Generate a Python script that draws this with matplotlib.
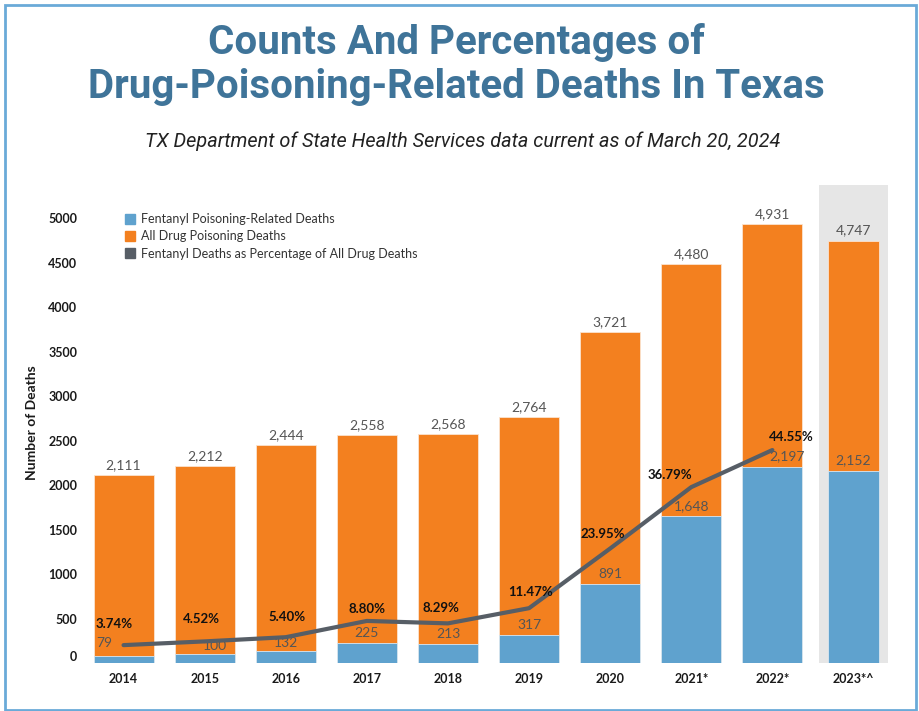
import matplotlib
matplotlib.use("Agg")
import matplotlib.pyplot as plt
from matplotlib.lines import Line2D
from matplotlib.patches import Rectangle

# data
years = ["2014", "2015", "2016", "2017", "2018", "2019", "2020", "2021*", "2022*", "2023*^"]
all_drug = [2111, 2212, 2444, 2558, 2568, 2764, 3721, 4480, 4931, 4747]
fentanyl = [79, 100, 132, 225, 213, 317, 891, 1648, 2197, 2152]
pct_fent = [3.74, 4.52, 5.40, 8.80, 8.29, 11.47, 23.95, 36.79, 44.55]  # no 2023 value

BLUE = "#5fa2ce"
ORANGE = "#f3801f"
LINE = "#575e66"
TITLE = "#3f7499"
LABEL_FONT = "Lato"

fig = plt.figure(figsize=(9.19, 7.11), dpi=100)
ax = fig.add_axes([83 / 919, 48 / 711, 811 / 919, 478 / 711])

x = list(range(len(years)))
widths = [0.74] * (len(years) - 1) + [0.625]

# highlight band behind the partial 2023 year
ax.axvspan(len(years) - 1 - 0.42, len(years) - 1 + 0.42, color="#e6e6e6", zorder=0, lw=0)

ax.bar(x, all_drug, width=widths, color=ORANGE, edgecolor="#fbe3cf", linewidth=0.6, zorder=2)
ax.bar(x, fentanyl, width=widths, color=BLUE, edgecolor="#d8e8f4", linewidth=0.6, zorder=3)

ax.set_xlim(-0.5, len(years) - 0.5)
ax.set_ylim(0, 5371)
ax.set_yticks(range(0, 5001, 500))
ax.set_xticks(x)
ax.set_xticklabels(years)
ax.tick_params(length=0)
ax.tick_params(axis="y", pad=4)
ax.tick_params(axis="x", pad=7)
for lbl in ax.get_yticklabels() + ax.get_xticklabels():
    lbl.set_fontfamily(LABEL_FONT)
    lbl.set_fontweight("bold")
    lbl.set_fontsize(9)
    lbl.set_color("#1a1a1a")
ax.get_yticklabels()[0].set_va("bottom")
for s in ax.spines.values():
    s.set_visible(False)

ax.set_ylabel("Number of Deaths", family=LABEL_FONT, fontweight="bold", fontsize=10, color="#1a1a1a")
ax.yaxis.set_label_coords(-0.0555, 0.502)

# percentage line on its own 0-100% scale
ax2 = ax.twinx()
ax2.set_ylim(0, 100)
ax2.set_yticks([])
for s in ax2.spines.values():
    s.set_visible(False)
ax2.plot(x[:len(pct_fent)], pct_fent, color=LINE, lw=3, solid_capstyle="round", zorder=5)

# value labels on the totals
for i, v in enumerate(all_drug):
    ax2.annotate(f"{v:,}", (i, v), xytext=(0, 10), textcoords="offset pixels",
                 xycoords=ax.transData, ha="center", va="center", family=LABEL_FONT,
                 fontsize=10, color="#555555", zorder=4)

# value labels on fentanyl bars (a few moved off the line)
fent_off = [(-19, 13), (10, 8), (0, 8), (0, 10), (0, 10), (0, 10), (0, 10), (0, 10), (15, 11), (0, 11)]
for i, v in enumerate(fentanyl):
    ax2.annotate(f"{v:,}", (i, v), xytext=fent_off[i], textcoords="offset pixels",
                 xycoords=ax.transData, ha="center", va="center", family=LABEL_FONT,
                 fontsize=10, color="#555555", zorder=4)

pct_off = [(-9, 21), (-3, 22), (1, 20), (0, 12), (-7, 15), (2, 16), (-7, 15), (-21, 12), (19, 13)]
for i, p in enumerate(pct_fent):
    ax2.annotate(f"{p:.2f}%", (i, p), xytext=pct_off[i], textcoords="offset pixels",
                 ha="center", va="center", family=LABEL_FONT, fontweight="bold",
                 fontsize=9.5, color="#111111", zorder=7)

handles = [
    Line2D([], [], ls="", marker="s", ms=7, color=BLUE),
    Line2D([], [], ls="", marker="s", ms=7, color=ORANGE),
    Line2D([], [], ls="", marker="s", ms=7, color=LINE),
]
labels = ["Fentanyl Poisoning-Related Deaths", "All Drug Poisoning Deaths",
          "Fentanyl Deaths as Percentage of All Drug Deaths"]
leg = ax2.legend(handles, labels, loc="upper left", bbox_to_anchor=(125 / 919, 1 - 213 / 711),
                 bbox_transform=fig.transFigure, frameon=False, borderpad=0, borderaxespad=0,
                 handlelength=0.8, handletextpad=0.5, labelspacing=0.42,
                 prop={"family": LABEL_FONT, "size": 9})
for t in leg.get_texts():
    t.set_color("#333333")

# titles
fig.text(0.497, 1 - 43 / 711, "Counts And Percentages of", ha="center", va="center",
         family="Roboto", fontweight="bold", fontsize=29, color=TITLE)
fig.text(0.497, 1 - 87 / 711, "Drug-Poisoning-Related Deaths In Texas", ha="center", va="center",
         family="Roboto", fontweight="bold", fontsize=29, color=TITLE)
fig.text(0.503, 1 - 141 / 711, "TX Department of State Health Services data current as of March 20, 2024",
         ha="center", va="center", family="Roboto", style="italic", fontsize=14.3, color="#222222")

# light blue frame round the whole graphic
fig.patches.append(Rectangle((5 / 919, 1 / 711), 911 / 919, 705 / 711, transform=fig.transFigure,
                             fill=False, edgecolor="#6aaad8", lw=2))

fig.savefig("out.png", dpi=100)
